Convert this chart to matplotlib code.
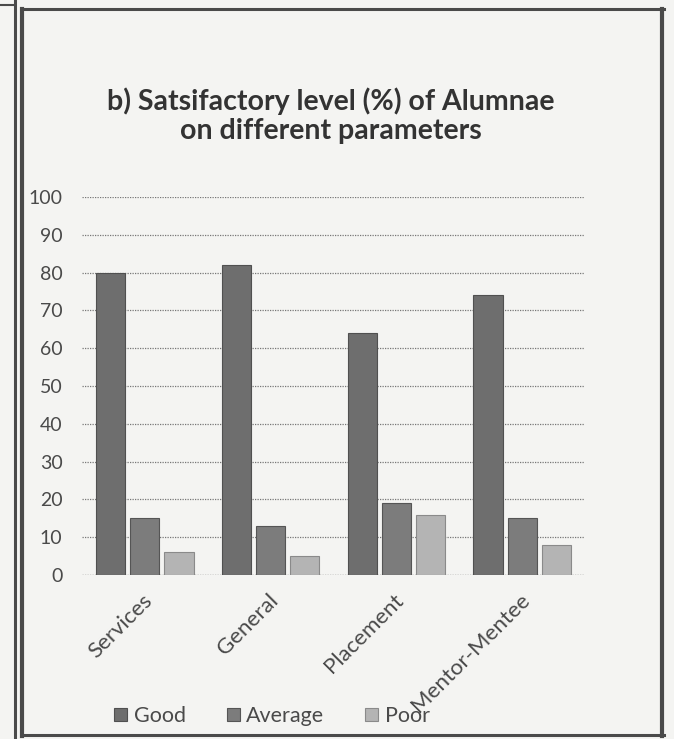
import matplotlib
matplotlib.use("Agg")
import matplotlib.pyplot as plt
import matplotlib.transforms as mtrans
import numpy as np
from matplotlib.lines import Line2D

categories = ["Services", "General", "Placement", "Mentor-Mentee"]
series_names = ["Good", "Average", "Poor"]
good = [80, 82, 64, 74]
average = [15, 13, 19, 15]
poor = [6, 5, 16, 8]
yticks = [0, 10, 20, 30, 40, 50, 60, 70, 80, 90, 100]

colors = ["#6e6e6e", "#7c7c7c", "#b4b4b4"]
edges = ["#505050", "#555555", "#8a8a8a"]

plt.rcParams['font.family'] = ['Lato', 'DejaVu Sans']

fig = plt.figure(figsize=(6.74, 7.39), dpi=100)
fig.patch.set_facecolor("#f4f4f2")


def fline(x0, y0, x1, y1, lw, c="#4a4a4a"):
    fig.add_artist(Line2D([x0 / 674, x1 / 674], [1 - y0 / 739, 1 - y1 / 739],
                          transform=fig.transFigure, lw=lw, color=c))


fline(14.5, 0, 14.5, 739, 2.2)
fline(0, 5, 14.5, 5, 1.5)
fline(22, 9, 22, 736, 3.0)
fline(22, 9, 664, 9, 2.2)
fline(662, 9, 662, 736, 3.0)
fline(22, 735, 664, 735, 2.2)

ax = fig.add_axes([82 / 674, 1 - 575 / 739, (585 - 82) / 674, (575 - 197) / 739])
ax.set_facecolor("none")

x = np.arange(len(categories))
step = 0.272
width = 0.232
data = [good, average, poor]
for i, vals in enumerate(data):
    ax.bar(x + (i - 1) * step, vals, width=width, color=colors[i],
           edgecolor=edges[i], linewidth=0.8, label=series_names[i], zorder=3)

ax.set_xlim(-0.5, 3.5)
ax.set_ylim(0, 100)
ax.set_yticks(yticks)
ax.set_yticklabels([str(v) for v in yticks], fontsize=14, color="#4a4a4a")
ax.tick_params(axis='y', length=0, pad=14)
ax.set_xticks(x)
ax.set_xticklabels(categories, rotation=45, ha='right', va='top', rotation_mode='anchor',
                   fontsize=16, color="#4a4a4a")
ax.tick_params(axis='x', length=0, pad=11)
ax.grid(axis='y', linestyle=(0, (1, 1)), color="#777777", linewidth=0.9, zorder=0)
for s in ax.spines.values():
    s.set_visible(False)
ax.axhline(0, color="#888888", linestyle=(0, (1, 1)), linewidth=0.9, zorder=2)

offset = mtrans.ScaledTranslation(-3 / 100, 0, fig.dpi_scale_trans)
for lbl in ax.get_xticklabels():
    lbl.set_transform(lbl.get_transform() + offset)

fig.text(331 / 674, 1 - 116 / 739, "b) Satsifactory level (%) of Alumnae\non different parameters",
         ha='center', va='center', fontsize=20.5, fontweight='bold', color="#333333",
         linespacing=1.15)

leg = fig.legend(loc='center', bbox_to_anchor=(272 / 674, 1 - 716 / 739), ncol=3,
                 frameon=False, fontsize=15.5, handlelength=0.6, handleheight=0.6,
                 columnspacing=1.9, handletextpad=0.3)
for t in leg.get_texts():
    t.set_color("#4a4a4a")

fig.savefig("out.png", dpi=100, facecolor=fig.get_facecolor())
